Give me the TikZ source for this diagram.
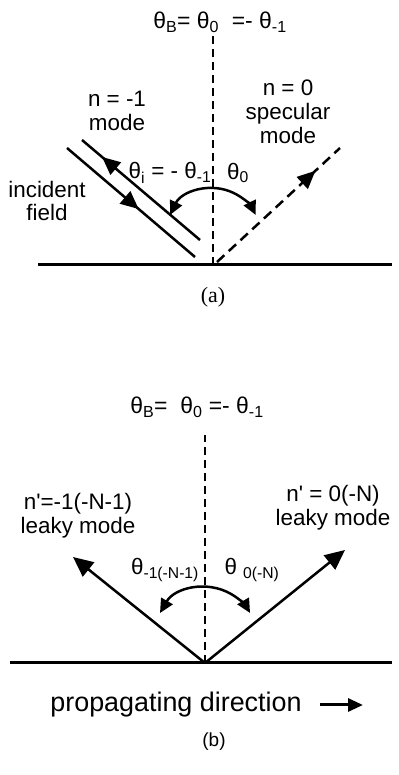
\documentclass[tikz,border=0pt]{standalone}
\usepackage{fontspec}
\setmainfont{Liberation Sans}
\newfontfamily\capserif{Liberation Serif}
\usetikzlibrary{arrows.meta,decorations.markings,positioning}

\newcommand{\lo}[1]{\textsubscript{#1}}

\begin{document}
\begin{tikzpicture}[
  x=1bp, y=1bp,
  lbl/.style={align=center, font=\fontsize{22.5}{24}\selectfont, inner sep=0pt},
  ttl/.style={font=\fontsize{23}{25}\selectfont, inner sep=0pt},
  ground/.style={line width=3bp},
  normal/.style={line width=1.3bp, dash pattern=on 8bp off 5bp},
  ray/.style={line width=2.5bp},
  specray/.style={ray, dash pattern=on 10bp off 6bp},
  bigtip/.style={-{Triangle[length=20bp,width=18bp]}},
  swing/.style={{Triangle[length=14bp,width=13bp]}-{Triangle[length=14bp,width=13bp]},
                line width=2.5bp},
  along/.style={postaction={decorate}, decoration={markings,
                mark=at position #1 with {\arrow{Triangle[length=18bp,width=16bp]}}}}
]
\useasboundingbox (0,0) rectangle (398,775);

%% Panel (a): incidence on the grating
\coordinate (Oa) at (213,510);
\coordinate (gaL) at (38,510);
\coordinate (gaR) at (392,510);
\coordinate (naT) at (213,740);
\draw[ground] (gaL) -- (gaR);
\draw[normal] (Oa) -- (naT);
\node[ttl] (ttla) at (220,753) {θ\lo{B}= θ\lo{0}\ \ =- θ\lo{-1}};

% incident field and n = -1 mode
\coordinate (incS) at (67,627);
\coordinate (incE) at (195,518);
\coordinate (modS) at (200,535);
\coordinate (modE) at (82,635);
\draw[ray, along=0.56] (incS) -- (incE);
\draw[ray, along=0.83] (modS) -- (modE);

% specular n = 0 mode
\coordinate (spS) at (217,513);
\coordinate (spE) at (340,627);
\draw[specray, along=0.8] (spS) -- (spE);

\coordinate (aL) at (170,560);
\draw[swing] (aL) arc[start angle=154, end angle=26, radius=47.7];

\node[lbl] (nm1) at (117,664) {n = -1\\mode};
\node[lbl] (n0) at (288,663) {n = 0\\specular\\mode};
\node[lbl] (inc) at (47,574) {incident\\field};
\node[lbl] (thi) at (170,602) {θ\lo{i} = - θ\lo{-1}};
\node[lbl] (th0) at (238,602) {θ\lo{0}};
\node[font=\capserif\fontsize{22}{24}\selectfont, inner sep=0pt] (capa) at (213,478) {(a)};

%% Panel (b): leaky modes
\coordinate (Ob) at (205,112);
\coordinate (gbL) at (10,112);
\coordinate (gbR) at (392,112);
\coordinate (nbT) at (205,340);
\draw[ground] (gbL) -- (gbR);
\draw[normal] (Ob) -- (nbT);
\node[ttl] (ttlb) at (197,368) {θ\lo{B}=\ \ θ\lo{0} =- θ\lo{-1}};

\coordinate (lkL) at (73,218);
\coordinate (lkR) at (345,225);
\draw[ray, bigtip] (Ob) -- (lkL);
\draw[ray, bigtip] (Ob) -- (lkR);

\coordinate (bL) at (160,162);
\draw[swing] (bL) arc[start angle=150, end angle=30, radius=52];

\node[lbl] (lm1) at (78,259) {n\textquotesingle=-1(-N-1)\\leaky mode};
\node[lbl] (lm0) at (333,267) {n\textquotesingle\ = 0(-N)\\leaky mode};
\node[lbl] (thm1) at (165,205) {θ\lo{-1(-N-1)}};
\node[lbl] (thm0) at (252,205) {θ\ \lo{0(-N)}};

\node[font=\fontsize{27}{29}\selectfont, inner sep=0pt] (prop) at (176,70)
  {propagating direction};
\coordinate (dirS) at (320,70);
\coordinate (dirE) at (363,70);
\draw[line width=3bp, -{Triangle[length=15bp,width=13bp]}] (dirS) -- (dirE);
\node[font=\fontsize{19}{21}\selectfont, inner sep=0pt] (capb) at (214,33) {(b)};

\end{tikzpicture}
\end{document}
